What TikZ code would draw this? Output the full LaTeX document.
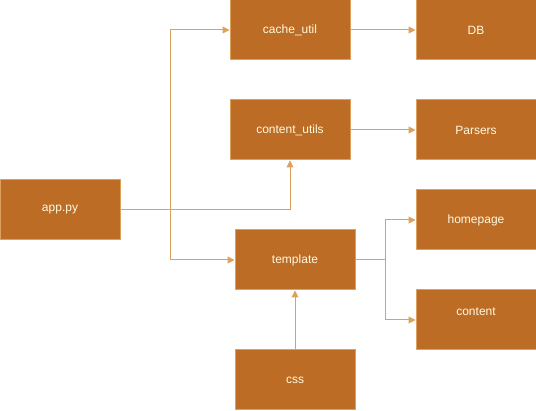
\documentclass[tikz,border=0pt]{standalone}
\usepackage{fontspec}
\setmainfont{Liberation Sans}
\usetikzlibrary{arrows.meta}
\usepackage{xcolor}
\definecolor{modfill}{HTML}{BC6C25}
\definecolor{modline}{HTML}{DDA15E}
\definecolor{modtext}{HTML}{FEFAE0}

\begin{document}
\begin{tikzpicture}[x=1pt,y=-1pt,
    module/.style={draw=modline, fill=modfill, line width=1pt, text=modtext,
      minimum width=120pt, minimum height=60pt, inner sep=0pt,
      font=\fontsize{12}{14}\selectfont},
    link/.style={draw=modline, line width=1pt},
    arr/.style={link, -{Triangle[length=7pt,width=7pt]}}]
  \useasboundingbox (0,0) rectangle (536,411);
  % modules
  \node[module] (app) at (60,210) {app.py};
  \node[module] (cache) at (290,30) {cache\_util};
  \node[module] (db) at (476,30) {DB};
  \node[module] (cutils) at (290,130) {content\_utils};
  \node[module] (parsers) at (476,130) {Parsers};
  \node[module] (home) at (476,220) {homepage};
  \node[module] (template) at (295,260) {template};
  \node[module] (content) at (476,320) {};
  \node[text=modtext, font=\fontsize{12}{14}\selectfont] (contentlbl) at (476,312) {content};
  \node[module] (css) at (295,380) {css};
  % junctions
  \coordinate (split) at (170,210);
  \coordinate (fork) at (385,260);
  % links
  \draw[link] (app.east) -- (split);
  \draw[arr] (split) |- (cache.west);
  \draw[arr] (split) |- (template.west);
  \draw[arr] (app.east) -| (cutils.south);
  \draw[arr] (cache.east) -- (db.west);
  \draw[arr] (cutils.east) -- (parsers.west);
  \draw[link] (template.east) -- (fork);
  \draw[arr] (fork) |- (home.west);
  \draw[arr] (fork) |- (content.west);
  \draw[arr] (css.north) -- (template.south);
\end{tikzpicture}
\end{document}
